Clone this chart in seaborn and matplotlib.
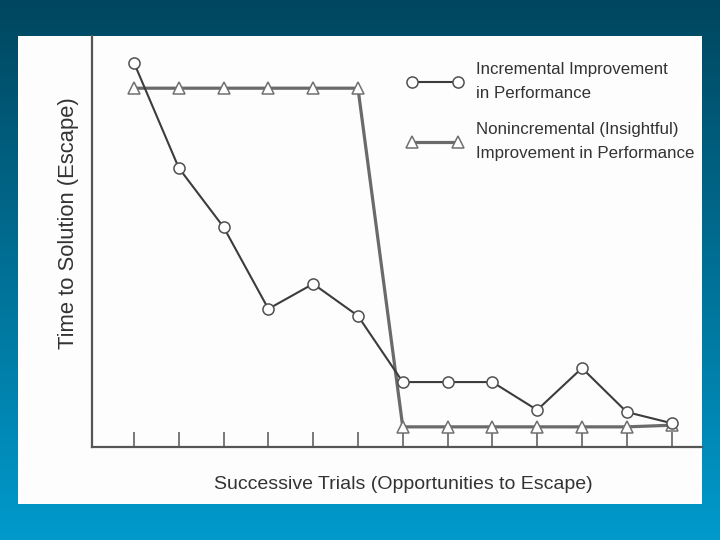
import numpy as np
import matplotlib
import matplotlib.pyplot as plt
import seaborn as sns
from matplotlib.patches import Rectangle
from matplotlib.lines import Line2D
from matplotlib.legend_handler import HandlerLine2D

matplotlib.use("Agg")

# Data (arbitrary time units, 0 = axis)
trials = list(range(1, 14))
incremental = [93.5, 67.9, 53.5, 33.6, 39.7, 31.9, 15.8, 15.8, 15.8, 9.0, 19.2, 8.5, 5.8]
insightful = [87.3, 87.3, 87.3, 87.3, 87.3, 87.3, 4.9, 4.9, 4.9, 4.9, 4.9, 4.9, 5.3]

labels = ["Incremental Improvement\nin Performance",
          "Nonincremental (Insightful)\nImprovement in Performance"]
xlabel = "Successive Trials (Opportunities to Escape)"
ylabel = "Time to Solution (Escape)"

sns.set_theme(style="white")
plt.rcParams["font.family"] = ["Liberation Sans", "DejaVu Sans"]

W, H = 720, 540
fig = plt.figure(figsize=(7.2, 5.4), dpi=100)

# slide background: vertical blue gradient
bg = fig.add_axes([0, 0, 1, 1], zorder=-10)
top_c = np.array([0x00, 0x46, 0x5f]) / 255
bot_c = np.array([0x00, 0x9a, 0xcc]) / 255
t = np.linspace(0, 1, 256)[:, None, None]
grad = top_c * (1 - t) + bot_c * t
bg.imshow(np.repeat(grad, 2, axis=1), aspect="auto", extent=[0, 1, 0, 1])
bg.axis("off")

# white scanned page
fig.patches.append(Rectangle((18 / W, 1 - 504 / H), (702 - 18) / W, (504 - 36) / H,
                             transform=fig.transFigure, facecolor="#fdfdfd",
                             edgecolor="none", zorder=-5))

ax = fig.add_axes([92 / W, 1 - 447 / H, (702 - 92) / W, (447 - 36) / H])
ax.patch.set_visible(False)

sns.lineplot(x=trials, y=insightful, ax=ax, color="#6a6a6a", lw=2.3,
             marker="^", markersize=8.5, markerfacecolor="white",
             markeredgecolor="#707070", markeredgewidth=1.1, label=labels[1], zorder=3)
sns.lineplot(x=trials, y=incremental, ax=ax, color="#3c3c3c", lw=1.5,
             marker="o", markersize=8, markerfacecolor="white",
             markeredgecolor="#505050", markeredgewidth=1.1, label=labels[0], zorder=4)

ax.set_xlim(0.0625, 13.68)
ax.set_ylim(0, 100)

for side in ["top", "right"]:
    ax.spines[side].set_visible(False)
for side in ["left", "bottom"]:
    ax.spines[side].set_color("#555555")
    ax.spines[side].set_linewidth(1.6)

ax.set_xticks(trials)
ax.set_xticklabels([])
ax.tick_params(axis="x", direction="in", length=11, width=1.1, color="#555555", bottom=True)
ax.set_yticks([])

ax.set_xlabel(xlabel, fontsize=14, color="#333333")
ax.set_ylabel(ylabel, fontsize=15.8, color="#333333")
ax.xaxis.set_label_coords(0.51, -0.07)
ax.yaxis.set_label_coords(-0.022, 0.545)

handles, lbls = ax.get_legend_handles_labels()
order = [lbls.index(l) for l in labels]
leg = ax.legend([handles[i] for i in order], [lbls[i] for i in order],
                loc="upper left", bbox_to_anchor=(412 / W, 1 - 62 / H),
                bbox_transform=fig.transFigure, frameon=False, fontsize=12.2,
                numpoints=2, handlelength=2.72, handletextpad=1.06, labelspacing=1.25,
                borderpad=0, borderaxespad=0, labelcolor="#333333",
                handler_map={Line2D: HandlerLine2D(marker_pad=0)})
for txt in leg.get_texts():
    txt.set_linespacing(1.75)

fig.savefig("out.png", dpi=100)
